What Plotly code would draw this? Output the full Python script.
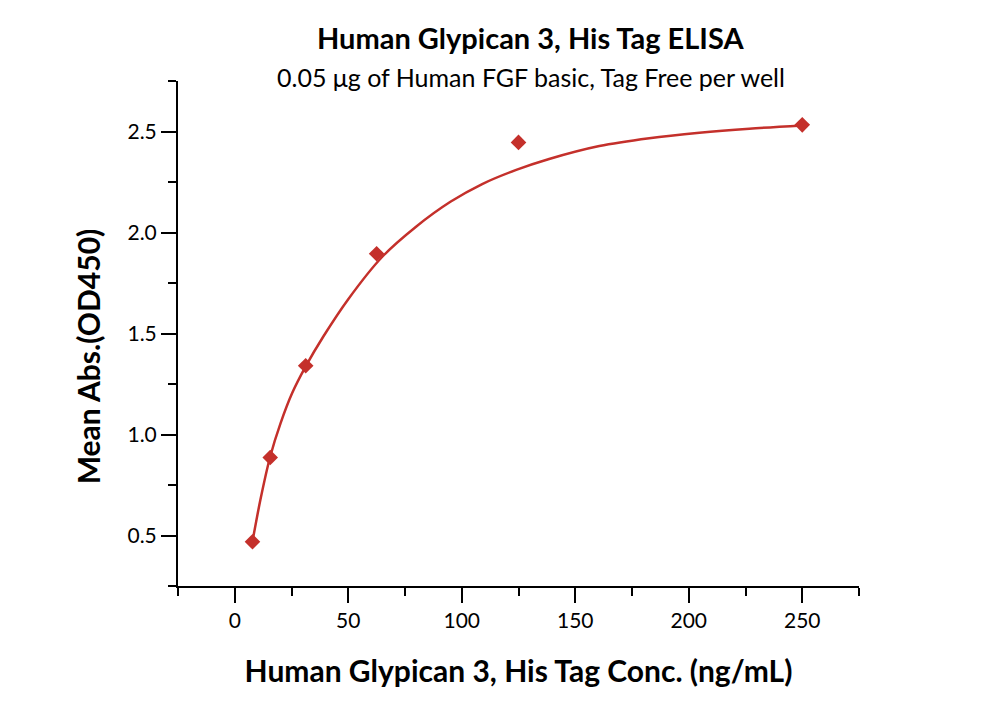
import plotly.graph_objects as go

# measured points
conc = [7.8125, 15.625, 31.25, 62.5, 125, 250]
mean_abs = [0.469, 0.886, 1.340, 1.895, 2.446, 2.533]

# fitted curve
fit_x = [7.8, 11.3, 15.6, 20.2, 25.3, 31.25, 39.3, 50, 65, 80, 95, 109,
         124, 138.5, 160.6, 182.6, 204.7, 226.7, 250]
fit_y = [0.47, 0.677, 0.89, 1.056, 1.205, 1.337, 1.49, 1.67, 1.88, 2.03, 2.152, 2.24,
         2.31, 2.364, 2.428, 2.467, 2.494, 2.514, 2.53]

red = "#C4302B"
font = "Lato"

fig = go.Figure()
fig.add_trace(go.Scatter(x=fit_x, y=fit_y, mode='lines',
                         line=dict(color=red, width=2.5, shape='spline', smoothing=0.8),
                         hoverinfo='skip', showlegend=False))
fig.add_trace(go.Scatter(x=conc, y=mean_abs, mode='markers',
                         marker=dict(symbol='diamond', size=12, color=red),
                         showlegend=False))

fig.update_layout(
    width=1000, height=702,
    plot_bgcolor='white', paper_bgcolor='white',
    margin=dict(l=170, r=149, t=73, b=124),
    font=dict(family=font, color='black'),
    xaxis=dict(
        range=[-25, 275], tick0=0, dtick=50,
        showline=True, linecolor='black', linewidth=2,
        ticks='outside', ticklen=15, tickwidth=2, tickcolor='black',
        minor=dict(ticks='outside', ticklen=8, tickwidth=2, tickcolor='black', dtick=25, tick0=0),
        showgrid=False, zeroline=False,
        tickfont=dict(size=21),
        title=dict(text='<b>Human Glypican 3, His Tag Conc. (ng/mL)</b>', font=dict(size=30), standoff=30),
    ),
    yaxis=dict(
        range=[0.25, 2.75], tick0=0.5, dtick=0.5, tickformat='.1f',
        showline=True, linecolor='black', linewidth=2,
        ticks='outside', ticklen=15, tickwidth=2, tickcolor='black',
        minor=dict(ticks='outside', ticklen=8, tickwidth=2, tickcolor='black', dtick=0.25, tick0=0.25),
        showgrid=False, zeroline=False,
        tickfont=dict(size=21),
    ),
)

# y title as annotation so it sits where the original has it
fig.add_annotation(text='<b>Mean Abs.(OD450)</b>', xref='paper', yref='paper',
                   x=-0.132, y=0.455, xanchor='center', yanchor='middle', textangle=-90,
                   showarrow=False, font=dict(size=30))
fig.add_annotation(text='<b>Human Glypican 3, His Tag ELISA</b>', xref='paper', yref='paper',
                   x=0.518, y=1.087, yanchor='middle', showarrow=False, font=dict(size=29))
fig.add_annotation(text='0.05 μg of Human FGF basic, Tag Free per well', xref='paper', yref='paper',
                   x=0.518, y=1.008, yanchor='middle', showarrow=False, font=dict(size=25))

fig.write_html("out.html")
